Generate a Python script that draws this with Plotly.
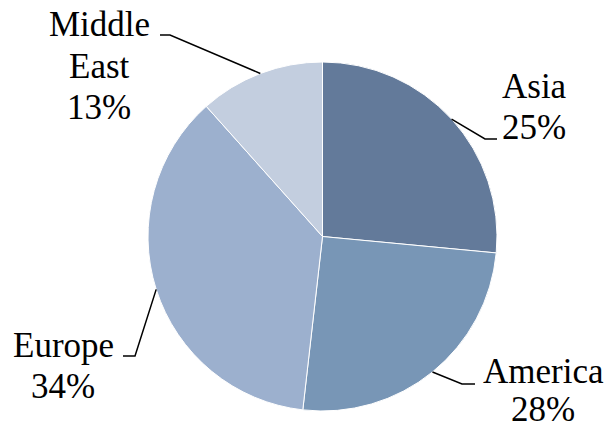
import math
import plotly.graph_objects as go

# Data
regions = ["Asia", "America", "Europe", "Middle East"]
slice_values = [26.5, 25.3, 36.6, 11.6]      # measured slice sizes
pct_labels = ["25%", "28%", "34%", "13%"]    # printed labels
colors = ["#637A9A", "#7896B6", "#9CB0CE", "#C3CEDF"]

W, H = 613, 429
CX, CY, R = 322.5, 236.5, 174.5

# layout: elbow / end of leader lines and label block centres (pixels)
elbows = [(485, 139), (462, 384), (135, 356), (170, 35)]
ends = [(497, 139), (475, 384), (123, 356), (160, 35)]
label_centres = [(534, 107), (543, 390), (63, 366), (99, 66)]
LINE_GAP = [41.5, 38.0, 41.5, 41.5]
FONT = dict(family="Liberation Serif, Times New Roman, serif", size=35, color="black")


def px(x, y):
    return x / W, 1 - y / H


fig = go.Figure(go.Pie(
    labels=regions,
    values=slice_values,
    sort=False,
    direction="clockwise",
    rotation=0,
    marker=dict(colors=colors, line=dict(color="white", width=1)),
    textinfo="none",
    hoverinfo="label+percent",
    domain=dict(x=[(CX - R) / W, (CX + R) / W], y=[1 - (CY + R) / H, 1 - (CY - R) / H]),
    showlegend=False,
))

total = sum(slice_values)
cum = 0.0
shapes, annotations = [], []
for i, v in enumerate(slice_values):
    mid = (cum + v / 2) / total * 2 * math.pi
    cum += v
    sx = CX + R * math.sin(mid)
    sy = CY - R * math.cos(mid)
    ex, ey = elbows[i]
    fx, fy = ends[i]
    p0, p1, p2 = px(sx, sy), px(ex, ey), px(fx, fy)
    shapes.append(dict(
        type="path", xref="paper", yref="paper",
        path=f"M {p0[0]},{p0[1]} L {p1[0]},{p1[1]} L {p2[0]},{p2[1]}",
        line=dict(color="black", width=1.5),
    ))
    lines = regions[i].split(" ") + [pct_labels[i]]
    lx, ly = label_centres[i]
    n = len(lines)
    for j, t in enumerate(lines):
        yy = ly + (j - (n - 1) / 2) * LINE_GAP[i]
        ax, ay = px(lx, yy)
        annotations.append(dict(
            x=ax, y=ay, xref="paper", yref="paper", text=t, showarrow=False,
            xanchor="center", yanchor="middle", font=FONT,
        ))

fig.update_layout(
    width=W, height=H,
    margin=dict(l=0, r=0, t=0, b=0),
    paper_bgcolor="white", plot_bgcolor="white",
    shapes=shapes, annotations=annotations,
)

fig.write_html("out.html", config={"displayModeBar": False},
               post_script="document.body.style.margin='0';document.body.style.padding='0';")
